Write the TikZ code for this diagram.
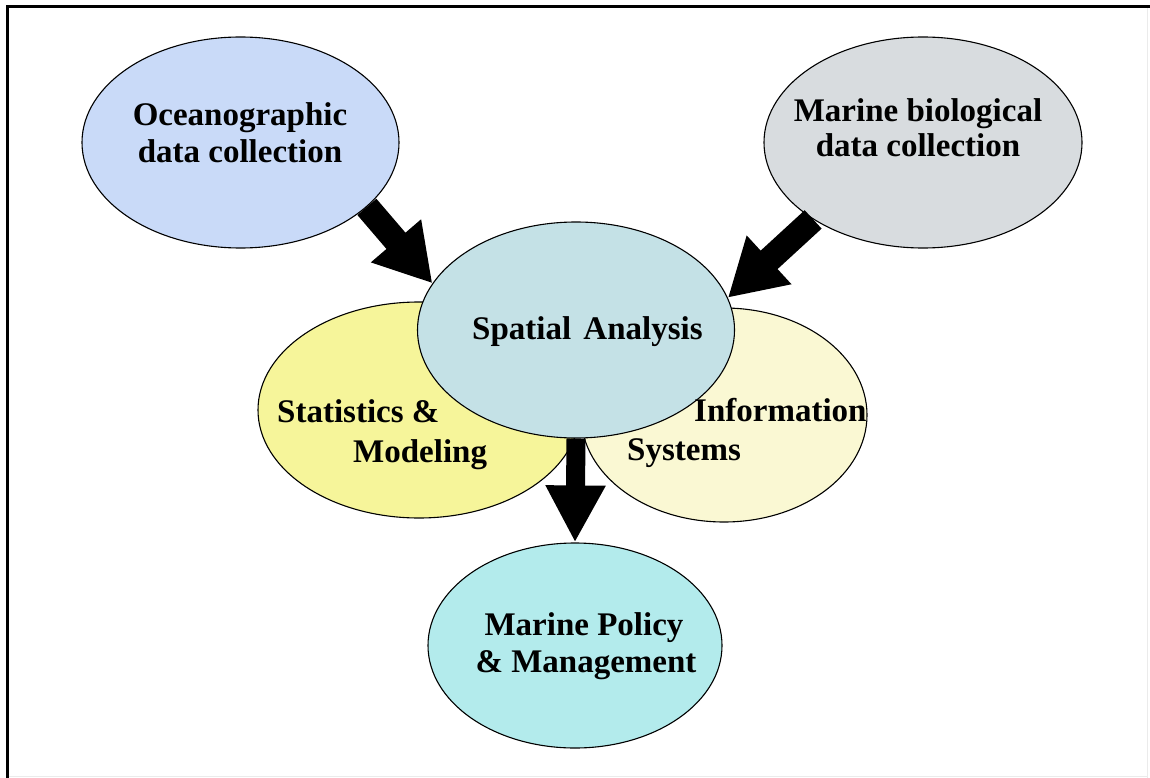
\documentclass[tikz,border=0pt]{standalone}
\usepackage{fontspec}
\setmainfont{Liberation Serif}
\usetikzlibrary{arrows.meta,shapes.geometric}
\definecolor{ocfill}{HTML}{C9DAF8}
\definecolor{biofill}{HTML}{D8DCDF}
\definecolor{spfill}{HTML}{C4E1E6}
\definecolor{stfill}{HTML}{F6F59A}
\definecolor{infill}{HTML}{FAF8D3}
\definecolor{pofill}{HTML}{B3EBEC}
\begin{document}
\begin{tikzpicture}[x=1pt,y=-1pt,
  blob/.style={ellipse, draw=black, line width=1.1pt, inner sep=0pt},
  txt/.style={font=\fontsize{33}{37}\selectfont\bfseries, anchor=base, inner sep=0pt},
  txtl/.style={txt, anchor=base west},
  bigarrow/.style={line width=25pt, -{Triangle[width=62pt,length=56pt]}},
  downarrow/.style={line width=19pt, -{Triangle[width=56pt,length=57pt]}}]
\useasboundingbox (0,0) rectangle (1150,778);
\fill[white] (0,0) rectangle (1150,778);
% frame
\draw[black!8, line width=1pt] (1147.5,7) -- (1147.5,778);
\draw[black!8, line width=1pt] (7,776.5) -- (1147.5,776.5);
\draw[line width=3pt] (7,778) -- (7,6.5) -- (1150,6.5);
% ellipses
\node[blob, fill=ocfill, minimum width=317pt, minimum height=211pt] (ocean) at (240.5,142.5) {};
\node[blob, fill=biofill, minimum width=318pt, minimum height=211pt] (bio) at (923,142.5) {};
\node[blob, fill=stfill, minimum width=322pt, minimum height=216pt] (stats) at (419,410) {};
\node[blob, fill=infill, minimum width=286pt, minimum height=214pt] (info) at (724,415) {};
\node[blob, fill=spfill, minimum width=317pt, minimum height=216pt] (spatial) at (576,330) {};
\node[blob, fill=pofill, minimum width=294pt, minimum height=205pt] (policy) at (575,645.5) {};
% texts
\node[txt] (oc1) at (240,126) {Oceanographic};
\node[txt] (oc2) at (240,163) {data collection};
\node[txt] (bi1) at (918,122) {Marine biological};
\node[txt] (bi2) at (918,157) {data collection};
\node[txtl] (sp1) at (472,339) {Spatial\hspace{4pt} Analysis};
\node[txtl] (st1) at (277,422) {Statistics \&};
\node[txtl] (st2) at (353,462) {Modeling};
\node[txtl] (in1) at (694,421) {Information};
\node[txtl] (in2) at (627,460) {Systems};
\node[txt] (po1) at (584,635) {Marine Policy};
\node[txt] (po2) at (586,672) {\& Management};
% arrows
\draw[bigarrow] (ocean.-27) -- (spatial.162);
\draw[bigarrow] (bio.215) -- (spatial.12);
\draw[downarrow] (spatial.south) -- (policy.north);
\end{tikzpicture}
\end{document}
